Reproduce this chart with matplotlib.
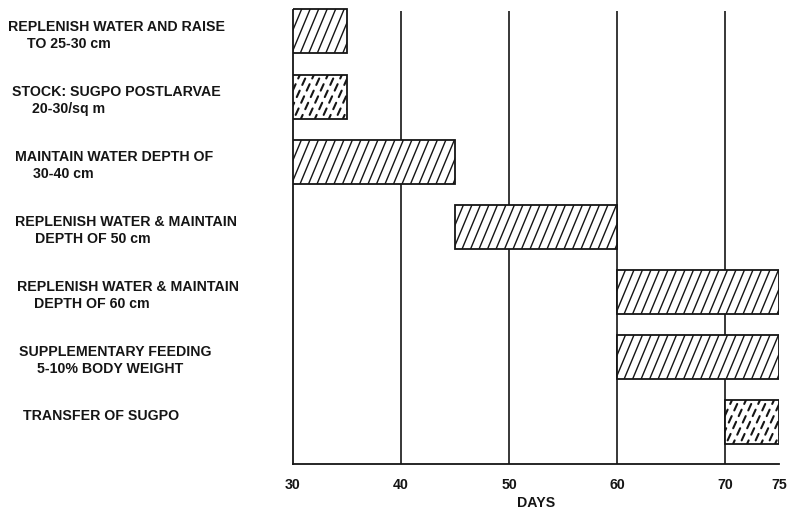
import numpy as np
import matplotlib
matplotlib.use("Agg")
import matplotlib.pyplot as plt
import matplotlib.transforms as mtransforms

# ---- data ----
activities = [
    ("REPLENISH WATER AND RAISE", "TO 25-30 cm"),
    ("STOCK: SUGPO POSTLARVAE", "20-30/sq m"),
    ("MAINTAIN WATER DEPTH OF", "30-40 cm"),
    ("REPLENISH WATER & MAINTAIN", "DEPTH OF 50 cm"),
    ("REPLENISH WATER & MAINTAIN", "DEPTH OF 60 cm"),
    ("SUPPLEMENTARY FEEDING", "5-10% BODY WEIGHT"),
    ("TRANSFER OF SUGPO", ""),
]
start_day = [30, 30, 30, 45, 60, 60, 70]
end_day = [35, 35, 45, 60, 75, 75, 75]
pattern = ["solid", "dashed", "solid", "solid", "solid", "solid", "dashed"]
x_ticks = [30, 40, 50, 60, 70, 75]
x_label = "DAYS"

# ---- styles / positions ----
label_x1 = [8, 12, 15, 15, 17, 19, 23]      # px from left
label_x2 = [27, 32, 33, 35, 34, 37, 0]
W, H = 789, 515
FONT = "Liberation Sans"
INK = "#151515"
FS = 10.2

plt.rcParams['font.family'] = [FONT, 'DejaVu Sans']
fig = plt.figure(figsize=(W / 100, H / 100), dpi=100)
ax_left, ax_right = 293 / W, 779 / W
ax_bottom, ax_top = (H - 464) / H, (H - 8) / H
ax = fig.add_axes([ax_left, ax_bottom, ax_right - ax_left, ax_top - ax_bottom])

n = len(activities)
rows = np.arange(n)
ax.set_xlim(30, 75)
ax.set_ylim(n - 1 + 0.645, -0.36)

for spine in ["top", "right"]:
    ax.spines[spine].set_visible(False)
for spine in ["left", "bottom"]:
    ax.spines[spine].set_linewidth(1.3)
    ax.spines[spine].set_color(INK)
ax.spines["left"].set_bounds(n - 1 + 0.645, -0.33)

# vertical grid lines
for t in x_ticks[1:-1]:
    ax.plot([t, t], [n - 1 + 0.645, -0.32], color=INK, lw=1.2, zorder=1,
            solid_capstyle="butt")

ax.set_xticks(x_ticks)
ax.set_xticklabels([str(t) for t in x_ticks], fontsize=FS, fontweight="bold", color=INK)
ax.tick_params(axis="x", length=0, pad=10)
ax.set_yticks([])
ax.set_xlabel(x_label, fontsize=FS, fontweight="bold", color=INK, labelpad=3)

bar_h = 0.675
bars = ax.barh(rows, np.array(end_day) - np.array(start_day), left=start_day,
               height=bar_h, facecolor="white", edgecolor=INK, linewidth=1.3, zorder=3)

# hatch lines drawn inside each bar (steep diagonal strokes)
fig.canvas.draw()
px_per_day = ax.bbox.width / 45.0
px_per_row = ax.bbox.height / (n - 1 + 0.645 + 0.36)
for i, bar in enumerate(bars):
    x0, x1 = start_day[i], end_day[i]
    yc = rows[i]
    ytop, ybot = yc - bar_h / 2, yc + bar_h / 2
    h_px = bar_h * px_per_row
    w_px = (x1 - x0) * px_per_day
    if pattern[i] == "dashed":
        slope_px, spacing_px = 2.2, 7.0
    else:
        slope_px, spacing_px = 2.4, 8.5
    dx_total = h_px / slope_px
    offs = np.arange(-dx_total, w_px + spacing_px, spacing_px)
    for k, o in enumerate(offs):
        xa = x0 + o / px_per_day
        xb = x0 + (o + dx_total) / px_per_day
        if pattern[i] == "dashed":
            ln, = ax.plot([xa, xb], [ybot, ytop], color=INK, lw=1.5,
                          linestyle=(1.5 + (k % 2) * 3.0, (3.4, 3.0)), zorder=4,
                          dash_capstyle="round")
        else:
            ln, = ax.plot([xa, xb], [ybot, ytop], color=INK, lw=1.0, zorder=4)
        ln.set_clip_path(bar)

# activity labels
blend = mtransforms.blended_transform_factory(fig.transFigure, ax.transData)
for i, (l1, l2) in enumerate(activities):
    if l2:
        fig.text(label_x1[i] / W, rows[i] - 0.07, l1, fontsize=FS, fontweight="bold",
                 color=INK, va="center", ha="left", transform=blend)
        fig.text(label_x2[i] / W, rows[i] + 0.19, l2, fontsize=FS, fontweight="bold",
                 color=INK, va="center", ha="left", transform=blend)
    else:
        fig.text(label_x1[i] / W, rows[i] - 0.09, l1, fontsize=FS, fontweight="bold",
                 color=INK, va="center", ha="left", transform=blend)

fig.savefig("out.png", dpi=100, facecolor="white")
